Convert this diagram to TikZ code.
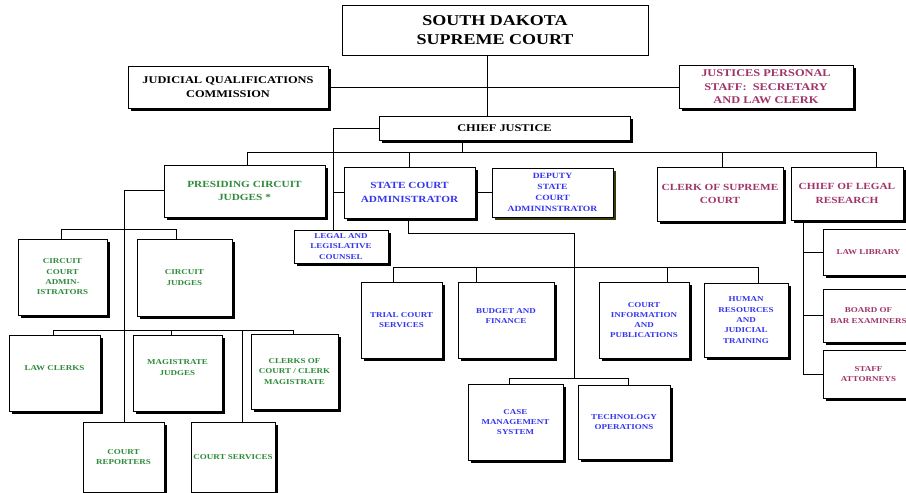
\documentclass[tikz,border=0pt]{standalone}
\usepackage{fontspec}
\setmainfont{Liberation Serif}[FakeStretch=1.2]
\usetikzlibrary{shadows}
\definecolor{cgreen}{HTML}{2E8B3A}
\definecolor{cblue}{HTML}{3535EE}
\definecolor{cmaroon}{HTML}{A03368}
\definecolor{olive}{HTML}{3A3A10}
\tikzset{
  box/.style={draw=black, line width=0.9pt, fill=white, align=center, inner sep=1pt,
    drop shadow={shadow xshift=2.6pt, shadow yshift=-2.6pt, fill=black, opacity=1}},
  topbox/.style={draw=black, line width=0.9pt, fill=white, align=center, inner sep=1pt},
  sz/.style 2 args={minimum width=#1pt, minimum height=#2pt},
  big/.style={font=\fontsize{15}{19}\selectfont\bfseries},
  mid/.style={font=\fontsize{10.3}{13.5}\selectfont\bfseries},
  med/.style={font=\fontsize{9.4}{13.5}\selectfont\bfseries},
  small/.style={font=\fontsize{7.5}{10.3}\selectfont\bfseries},
  conn/.style={draw=black, line width=0.8pt},
  green/.style={text=cgreen},
  blue/.style={text=cblue},
  maroon/.style={text=cmaroon}
}
\begin{document}
\begin{tikzpicture}[x=1pt,y=-1pt]
\useasboundingbox (0,0) rectangle (906,493);
\clip (0,0) rectangle (906,493);
\fill[white] (0,0) rectangle (906,493);
% top levels
\node[topbox, sz={306}{50}, big] (sc) at (495,30) {SOUTH DAKOTA\\SUPREME COURT};
\node[box, sz={200}{42}, mid] (jqc) at (228,87) {JUDICIAL QUALIFICATIONS\\COMMISSION};
\node[box, sz={174}{43}, mid, maroon] (jps) at (766,87) {JUSTICES PERSONAL\\STAFF:\ \ SECRETARY\\AND LAW CLERK};
\node[box, sz={251}{24}, mid] (cj) at (504.5,128) {CHIEF JUSTICE};
% second level
\node[box, sz={161}{52}, med, green] (pcj) at (244.5,191) {PRESIDING CIRCUIT\\JUDGES *};
\node[box, sz={131}{51}, med, blue] (sca) at (409.5,192.5) {STATE COURT\\ADMINISTRATOR};
\node[box, sz={121}{49}, blue, font=\fontsize{8}{11}\selectfont\bfseries,
  drop shadow={shadow xshift=2.6pt, shadow yshift=-2.6pt, fill=olive, opacity=1}] (dsca) at (552.5,192.5) {DEPUTY\\STATE\\COURT\\ADMININSTRATOR};
\node[box, sz={94}{33}, small, blue] (llc) at (341,246.5) {LEGAL AND\\LEGISLATIVE\\COUNSEL};
\node[box, sz={126}{54}, med, maroon] (cosc) at (720,194) {CLERK OF SUPREME\\COURT};
\node[box, sz={112}{53}, med, maroon] (clr) at (847,193.5) {CHIEF OF LEGAL\\RESEARCH};
% circuit side
\node[box, sz={89}{76}, small, green] (cca) at (62.5,277) {CIRCUIT\\COURT\\ADMIN-\\ISTRATORS};
\node[box, sz={95}{77}, small, green] (cjd) at (184.5,277.5) {CIRCUIT\\JUDGES};
\node[box, sz={91}{76}, small, green, text depth=10pt] (lc) at (54.5,373) {LAW CLERKS};
\node[box, sz={89}{76}, small, green, text depth=11pt] (mj) at (177.5,373) {MAGISTRATE\\JUDGES};
\node[box, sz={87}{75}, small, green] (ccm) at (294.5,371.5) {CLERKS OF\\COURT / CLERK\\MAGISTRATE};
\node[box, sz={81}{70}, small, green] (crep) at (123.5,457) {COURT\\REPORTERS};
\node[box, sz={84}{70}, small, green] (csv) at (233,457) {COURT SERVICES};
% state court administrator side
\node[box, sz={81}{76}, small, blue] (tcs) at (401.5,320) {TRIAL COURT\\SERVICES};
\node[box, sz={96}{76}, small, blue, text depth=8pt] (bf) at (506,320) {BUDGET AND\\FINANCE};
\node[box, sz={90}{76}, small, blue] (cip) at (644,320) {COURT\\INFORMATION\\AND\\PUBLICATIONS};
\node[box, sz={84}{74}, small, blue] (hr) at (746,320) {HUMAN\\RESOURCES\\AND\\JUDICIAL\\TRAINING};
\node[box, sz={95}{76}, small, blue] (cms) at (515.5,422) {CASE\\MANAGEMENT\\SYSTEM};
\node[box, sz={92}{74}, small, blue] (tech) at (624,422) {TECHNOLOGY\\OPERATIONS};
% legal research side
\node[box, sz={91}{46}, small, maroon] (ll) at (868.5,252) {LAW LIBRARY};
\node[box, sz={91}{53}, small, maroon] (bbe) at (868.5,315.5) {BOARD OF\\BAR EXAMINERS};
\node[box, sz={91}{48}, small, maroon] (sa) at (868.5,374) {STAFF\\ATTORNEYS};
% connectors
\coordinate (a1) at (487,87);
\draw[conn] (a1 |- sc.south) -- (a1 |- cj.north);
\draw[conn] (jqc.east) -- (jps.west);
\coordinate (b1) at (333,128);
\draw[conn] (cj.west) -- (b1) -- (b1 |- llc.north);
\draw[conn] (b1 |- sca.west) -- (sca.west);
\coordinate (c1) at (462,152);
\draw[conn] (c1 |- cj.south) -- (c1);
\coordinate (d1) at (247,152);
\coordinate (d2) at (409,152);
\coordinate (d3) at (722,152);
\coordinate (d4) at (876,152);
\draw[conn] (d1 |- pcj.north) -- (d1) -- (d4) -- (d4 |- clr.north);
\draw[conn] (d2) -- (d2 |- sca.north);
\draw[conn] (d3) -- (d3 |- cosc.north);
\draw[conn] (sca.east) -- (dsca.west);
% circuit branch
\coordinate (e1) at (124,190);
\draw[conn] (pcj.west |- e1) -- (e1) -- (e1 |- crep.north);
\coordinate (f1) at (61,229);
\coordinate (f2) at (176,229);
\draw[conn] (f1 |- cca.north) -- (f1) -- (f2) -- (f2 |- cjd.north);
\coordinate (g1) at (53,330);
\coordinate (g2) at (171,330);
\coordinate (g3) at (293,330);
\coordinate (g4) at (242,330);
\draw[conn] (g1 |- lc.north) -- (g1) -- (g3) -- (g3 |- ccm.north);
\draw[conn] (g2) -- (g2 |- mj.north);
\draw[conn] (g4) -- (g4 |- csv.north);
% administrator branch
\coordinate (h1) at (408,233);
\coordinate (h2) at (574,233);
\coordinate (h3) at (574,378);
\draw[conn] (h1 |- sca.south) -- (h1) -- (h2) -- (h3);
\coordinate (i1) at (509,378);
\coordinate (i2) at (628,378);
\draw[conn] (i1 |- cms.north) -- (i1) -- (i2) -- (i2 |- tech.north);
\coordinate (k1) at (393,267);
\coordinate (k2) at (476,267);
\coordinate (k3) at (667,267);
\coordinate (k4) at (758,267);
\draw[conn] (k1 |- tcs.north) -- (k1) -- (k4) -- (k4 |- hr.north);
\draw[conn] (k2) -- (k2 |- bf.north);
\draw[conn] (k3) -- (k3 |- cip.north);
% legal research branch
\coordinate (m1) at (803,300);
\draw[conn] (m1 |- clr.south) -- (m1 |- sa.west) -- (sa.west);
\draw[conn] (m1 |- ll.west) -- (ll.west);
\draw[conn] (m1 |- bbe.west) -- (bbe.west);
\end{tikzpicture}
\end{document}
